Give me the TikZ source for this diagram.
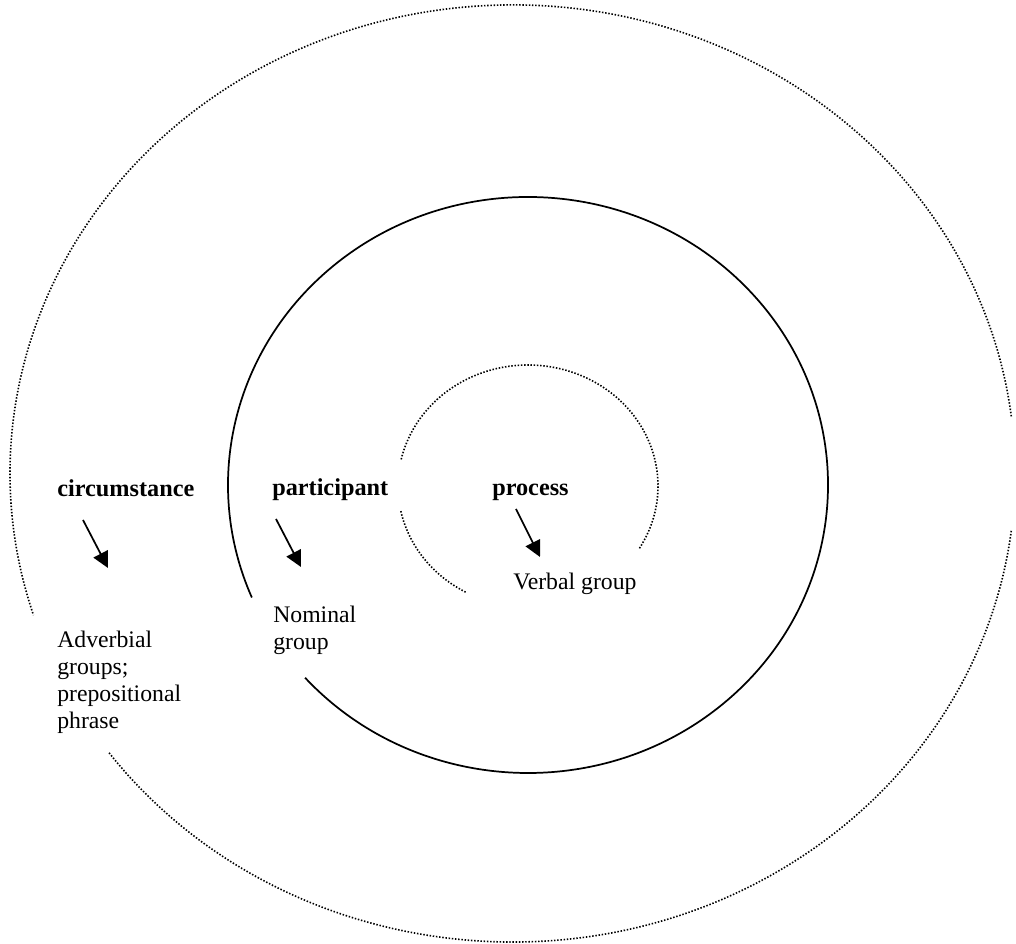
\documentclass[tikz,border=0pt]{standalone}
\usepackage{fontspec}
\setmainfont{Liberation Serif}
\usetikzlibrary{arrows.meta}
\tikzset{
  ring dotted/.style={line width=1.2pt, dash pattern=on 1.1pt off 1.3pt},
  ring solid/.style={line width=1.3pt},
  lbl/.style={inner sep=0pt, font=\fontsize{17.8}{20.25}\selectfont, align=left},
  head/.style={inner sep=0pt, font=\fontsize{18.2}{20.25}\selectfont\bfseries},
  pointer/.style={line width=1.3pt, -{Triangle[length=12pt,width=12pt]}}
}
\begin{document}
\begin{tikzpicture}[x=0.75pt,y=0.75pt]
\useasboundingbox (0,0) rectangle (1016,944);

% centres of the three rings
\coordinate (co) at (512.5,470.5);
\coordinate (cm) at (528,459);
\coordinate (ci) at (528,458);

% outer dotted ring: circumstance
\draw[ring dotted] (co) ++(7:376.9pt and 351.4pt)
  arc[start angle=7, end angle=197.6, x radius=376.9pt, y radius=351.4pt];
\draw[ring dotted] (co) ++(216.6:376.9pt and 351.4pt)
  arc[start angle=216.6, end angle=353, x radius=376.9pt, y radius=351.4pt];

% middle solid ring: participant
\draw[ring solid] (cm) ++(222:225pt and 216pt)
  arc[start angle=222, end angle=563, x radius=225pt, y radius=216pt];

% inner dotted ring: process
\draw[ring dotted] (ci) ++(-31:97.5pt and 90.75pt)
  arc[start angle=-31, end angle=168, x radius=97.5pt, y radius=90.75pt];
\draw[ring dotted] (ci) ++(192:97.5pt and 90.75pt)
  arc[start angle=192, end angle=242, x radius=97.5pt, y radius=90.75pt];

% labels
\node[head, anchor=base west] (circ) at (57,447) {circumstance};
\node[head, anchor=base west] (part) at (272,448) {participant};
\node[head, anchor=base west] (proc) at (492,448) {process};

\node[lbl, anchor=base west] (adv) at (57,215) {Adverbial\\groups;\\prepositional\\phrase};
\node[lbl, anchor=base west] (nom) at (273,294) {Nominal\\group};
\node[lbl, anchor=base west] (verb) at (513,354) {Verbal group};

% arrows from each function to its realisation
\coordinate (circ-from) at (83,424);
\coordinate (circ-to) at (108,376);
\coordinate (part-from) at (276,425);
\coordinate (part-to) at (301,377);
\coordinate (proc-from) at (516,435);
\coordinate (proc-to) at (540,387);
\draw[pointer] (circ-from) -- (circ-to);
\draw[pointer] (part-from) -- (part-to);
\draw[pointer] (proc-from) -- (proc-to);
\end{tikzpicture}
\end{document}
